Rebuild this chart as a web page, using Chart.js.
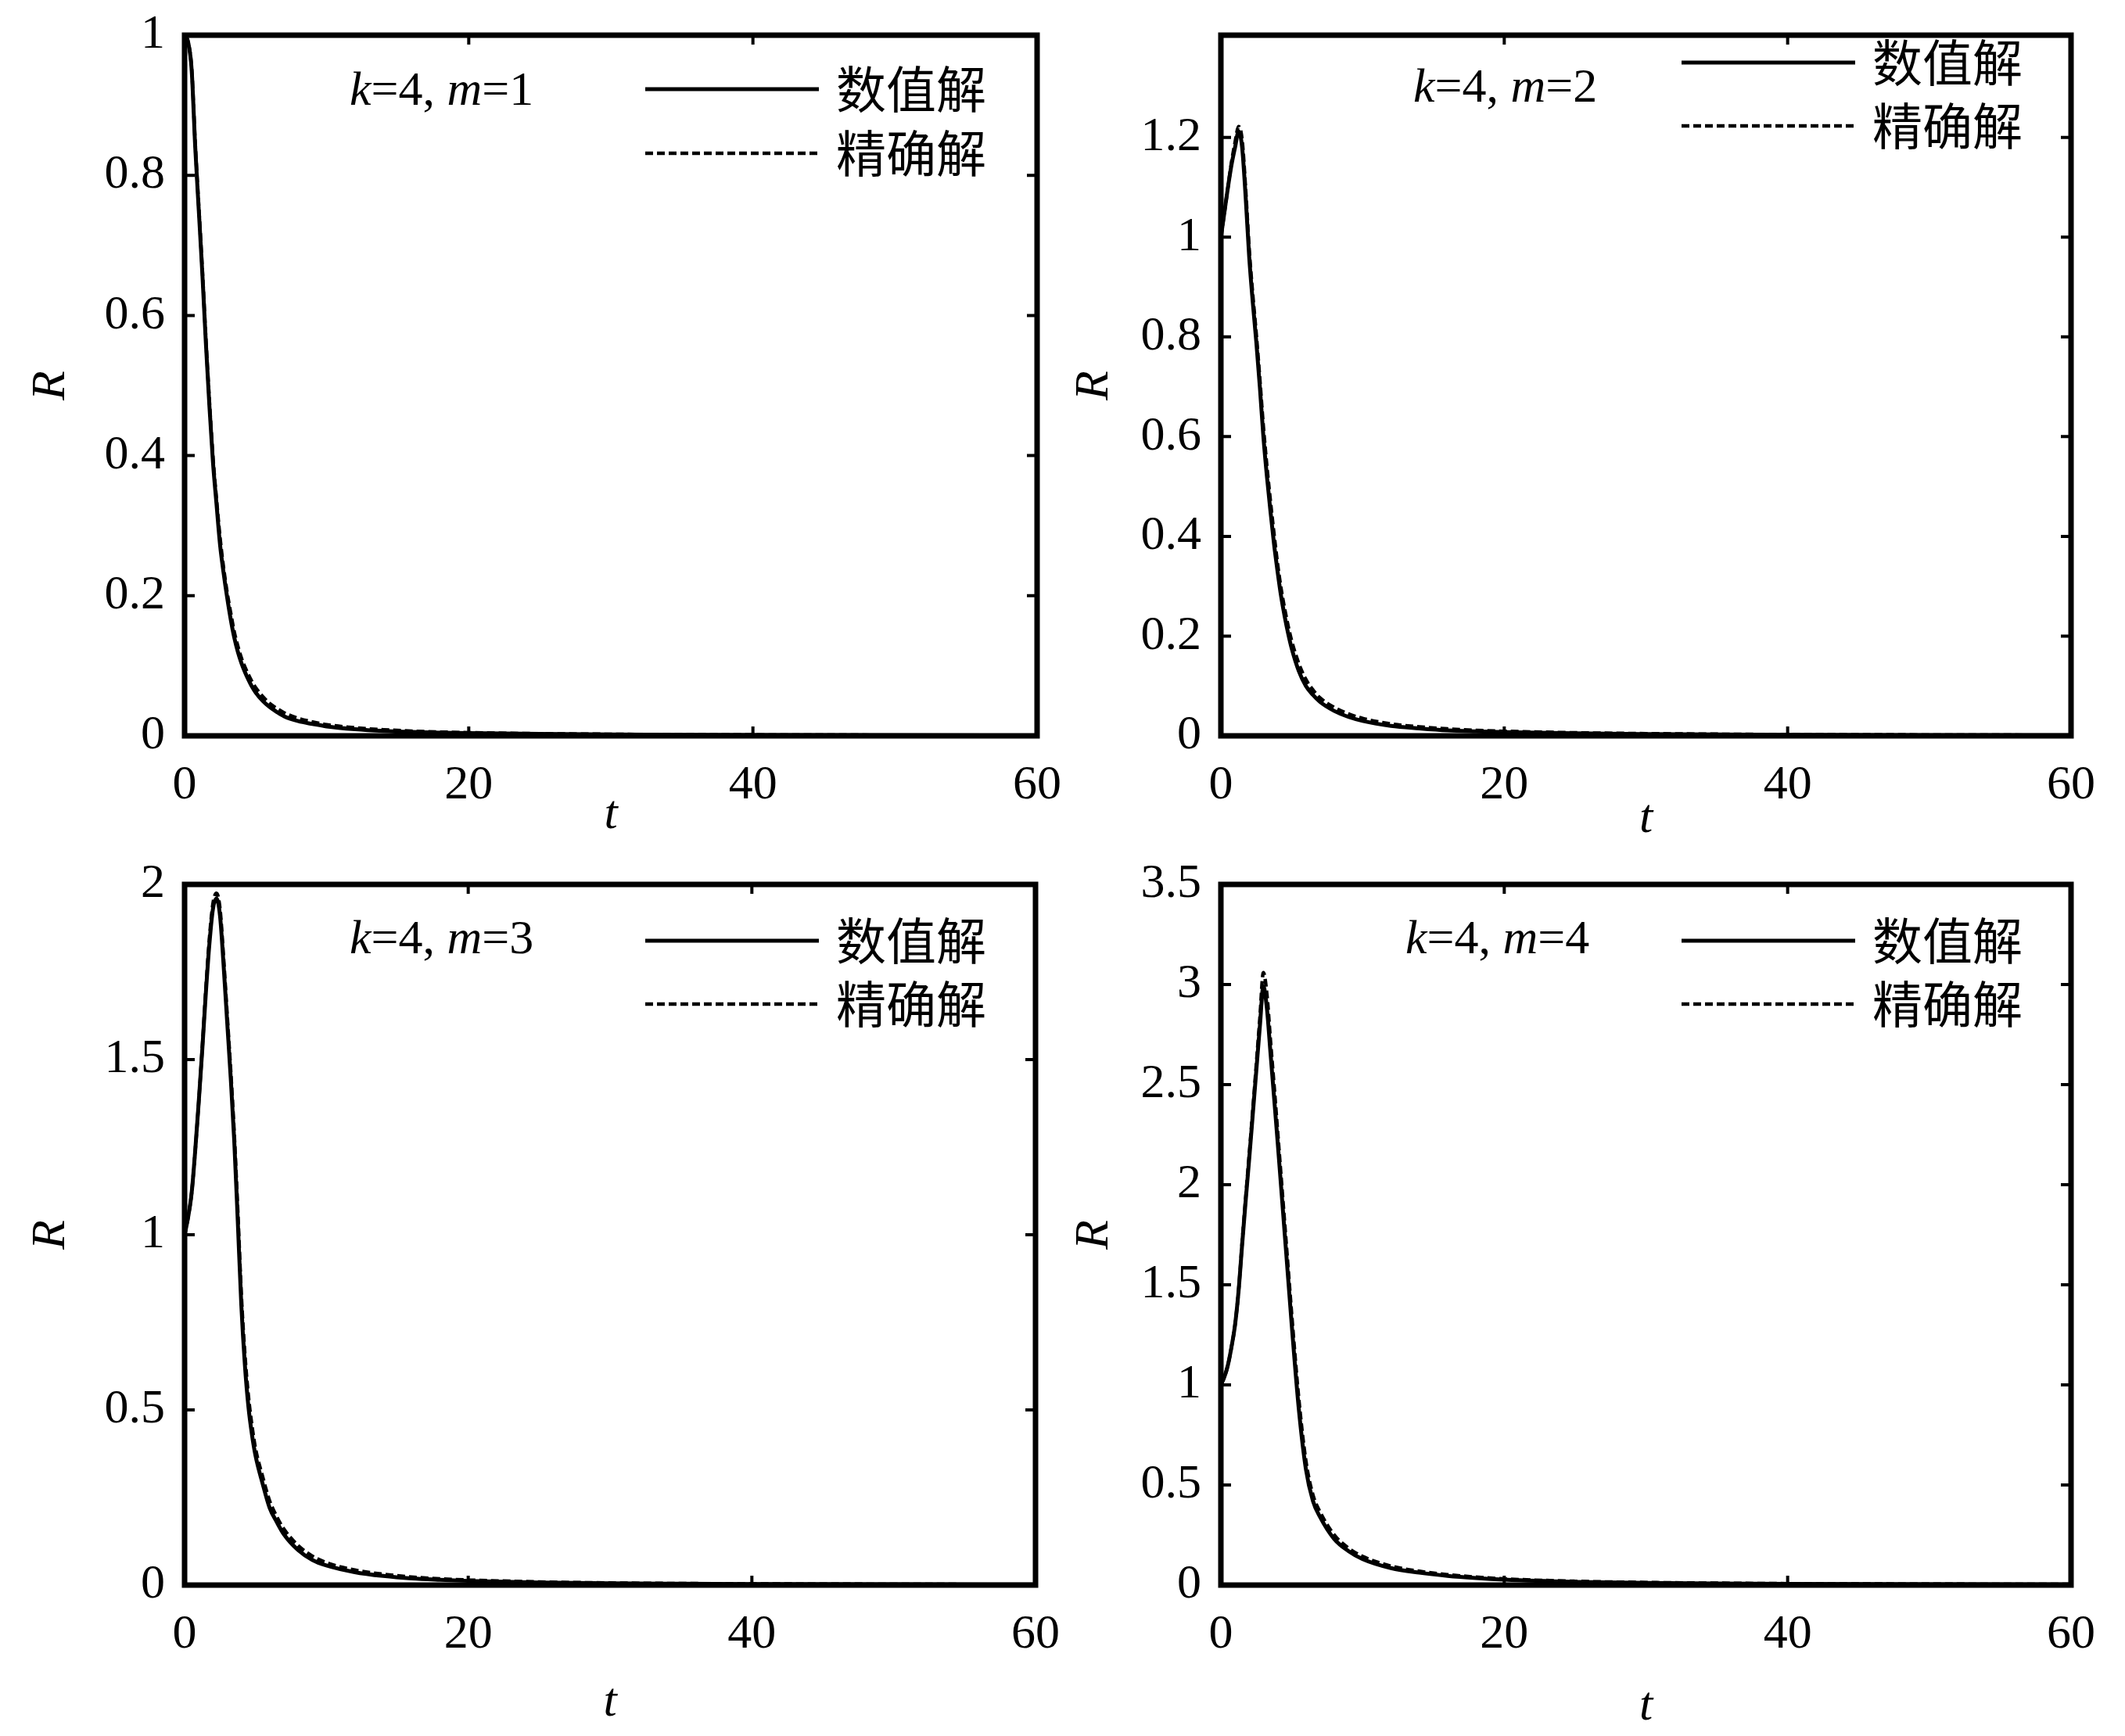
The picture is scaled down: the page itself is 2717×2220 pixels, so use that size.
<!DOCTYPE html>
<html>
<head>
<meta charset="utf-8">
<script src="https://cdn.jsdelivr.net/npm/chart.js@4.4.1/dist/chart.umd.min.js"></script>
<style>
  html, body { margin: 0; padding: 0; background: #fff; }
  body { width: 2717px; height: 2220px; position: relative; overflow: hidden; }
  canvas { position: absolute; }
</style>
</head>
<body>
<canvas id="panel0"></canvas>
<canvas id="panel1"></canvas>
<canvas id="panel2"></canvas>
<canvas id="panel3"></canvas>
<script>
// time axis (shared by every curve)
const tValues = [0,0.25,0.5,0.75,1,1.25,1.5,1.75,2,2.25,2.5,2.75,3,3.25,3.5,3.75,4,4.25,4.5,4.75,5,5.5,6,6.5,7,8,9,10,12,14,16,18,20,25,30,35,40,50,60];

const seriesNames = ['数值解', '精确解'];
const kValue = 4;
const mValues = [1, 2, 3, 4];

// k=4, m=1
const R1num   = [1.000,0.990,0.950,0.840,0.750,0.660,0.560,0.470,0.390,0.330,0.272,0.232,0.197,0.166,0.140,0.120,0.104,0.091,0.080,0.070,0.062,0.050,0.041,0.034,0.028,0.021,0.017,0.0135,0.0095,0.007,0.0055,0.0045,0.0038,0.0027,0.002,0.0015,0.0012,0.0008,0.0006];
const R1exact = [1.000,0.990,0.952,0.845,0.755,0.665,0.566,0.477,0.397,0.337,0.282,0.239,0.204,0.175,0.148,0.128,0.111,0.098,0.087,0.077,0.069,0.056,0.046,0.039,0.033,0.025,0.020,0.016,0.0115,0.0087,0.0068,0.0055,0.0046,0.0031,0.0023,0.0017,0.0013,0.0009,0.0006];
// k=4, m=2
const R2num   = [1.000,1.050,1.100,1.145,1.180,1.212,1.180,1.080,0.960,0.870,0.790,0.700,0.600,0.520,0.450,0.385,0.330,0.280,0.240,0.205,0.175,0.130,0.100,0.082,0.068,0.050,0.038,0.030,0.020,0.015,0.011,0.009,0.0075,0.005,0.0036,0.0027,0.002,0.0013,0.001];
const R2exact = [1.000,1.050,1.100,1.150,1.190,1.222,1.195,1.095,0.975,0.885,0.805,0.715,0.620,0.540,0.470,0.405,0.345,0.295,0.255,0.220,0.190,0.145,0.113,0.092,0.076,0.057,0.044,0.035,0.024,0.018,0.014,0.011,0.0092,0.0062,0.0045,0.0034,0.0026,0.0017,0.0012];
// k=4, m=3
const R3num   = [1.00,1.05,1.12,1.24,1.38,1.53,1.69,1.83,1.93,1.96,1.91,1.77,1.61,1.45,1.27,1.04,0.80,0.63,0.51,0.43,0.37,0.29,0.22,0.18,0.145,0.100,0.072,0.056,0.037,0.026,0.019,0.015,0.012,0.0075,0.005,0.0038,0.003,0.002,0.0014];
const R3exact = [1.00,1.05,1.12,1.24,1.38,1.535,1.70,1.845,1.945,1.975,1.93,1.79,1.63,1.47,1.29,1.07,0.83,0.66,0.54,0.455,0.39,0.31,0.24,0.195,0.16,0.113,0.083,0.064,0.043,0.031,0.023,0.018,0.0145,0.009,0.006,0.0045,0.0035,0.0023,0.0016];
// k=4, m=4
const R4num   = [1.00,1.04,1.10,1.19,1.30,1.47,1.70,1.92,2.13,2.35,2.57,2.79,2.99,2.88,2.66,2.44,2.22,1.99,1.76,1.53,1.30,0.88,0.58,0.42,0.34,0.23,0.17,0.13,0.085,0.062,0.046,0.035,0.027,0.016,0.011,0.008,0.006,0.004,0.003];
const R4exact = [1.00,1.04,1.10,1.19,1.30,1.47,1.71,1.935,2.15,2.37,2.60,2.83,3.06,2.95,2.72,2.50,2.27,2.04,1.81,1.58,1.35,0.93,0.62,0.45,0.365,0.25,0.185,0.143,0.095,0.069,0.052,0.040,0.031,0.019,0.013,0.0095,0.0072,0.0048,0.0035];

// tick labels
const xTicks = [0, 20, 40, 60];
const yTicks1 = [0, 0.2, 0.4, 0.6, 0.8, 1];
const yTicks2 = [0, 0.2, 0.4, 0.6, 0.8, 1, 1.2];
const yTicks3 = [0, 0.5, 1, 1.5, 2];
const yTicks4 = [0, 0.5, 1, 1.5, 2, 2.5, 3, 3.5];
const yMax = [1, 1.405, 2, 3.5];

const panelSeries = [[R1num, R1exact], [R2num, R2exact], [R3num, R3exact], [R4num, R4exact]];
const panelYTicks = [yTicks1, yTicks2, yTicks3, yTicks4];

// layout of each panel on the page (pixels); plot area starts padTop below the canvas top
const panelLayout = [
  { left: 0,    top: -19,  plotW: 1090, height: 1105, rX: 66, tY: 1062, legendRows: [69, 151], noteX: 211, noteY: 73 },
  { left: 1325, top: -19,  plotW: 1087, height: 1105, rX: 75, tY: 1067, legendRows: [35, 116], noteX: 246, noteY: 69 },
  { left: 0,    top: 1067, plotW: 1088, height: 1153, rX: 66, tY: 1111, legendRows: [72, 153], noteX: 211, noteY: 72 },
  { left: 1325, top: 1067, plotW: 1087, height: 1153, rX: 75, tY: 1116, legendRows: [72, 153], noteX: 236, noteY: 72 }
];
const yAxisW = 236, padTop = 64, padRight = 62, plotH = 896;
const serif = '"Liberation Serif", "Times New Roman", serif';
const cjk = '"Noto Sans CJK SC", sans-serif';
const fontSize = 62;

//dibuja el marco, las marcas de los ejes, la leyenda y la anotacion
const framePlugin = {
  id: 'marco',
  afterDraw(chart, args, opts) {
    const ctx = chart.ctx;
    const a = chart.chartArea;
    const sx = chart.scales.x, sy = chart.scales.y;
    ctx.save();
    ctx.strokeStyle = '#000';
    ctx.lineWidth = 4;
    sx.ticks.forEach(tk => {
      const px = sx.getPixelForValue(tk.value);
      ctx.beginPath();
      ctx.moveTo(px, a.bottom); ctx.lineTo(px, a.bottom - 12);
      ctx.moveTo(px, a.top); ctx.lineTo(px, a.top + 12);
      ctx.stroke();
    });
    sy.ticks.forEach(tk => {
      const py = sy.getPixelForValue(tk.value);
      ctx.beginPath();
      ctx.moveTo(a.left, py); ctx.lineTo(a.left + 13, py);
      ctx.moveTo(a.right, py); ctx.lineTo(a.right - 13, py);
      ctx.stroke();
    });
    ctx.lineWidth = 7;
    ctx.strokeRect(a.left, a.top, a.right - a.left, a.bottom - a.top);

    // leyenda
    const lay = opts.layout;
    chart.data.datasets.forEach((ds, j) => {
      const y = a.top + lay.legendRows[j];
      ctx.lineWidth = ds.borderWidth;
      ctx.setLineDash(ds.borderDash || []);
      ctx.beginPath();
      ctx.moveTo(a.left + 589, y);
      ctx.lineTo(a.left + 811, y);
      ctx.stroke();
      ctx.setLineDash([]);
      ctx.fillStyle = '#000';
      ctx.font = '64px ' + cjk;
      ctx.textBaseline = 'middle';
      ctx.textAlign = 'left';
      ctx.fillText(ds.label, a.left + 833, y);
    });

    // k=4, m=...
    const parts = [['k', true], ['=' + kValue + ', ', false], ['m', true], ['=' + opts.m, false]];
    let x = a.left + lay.noteX;
    const y = a.top + lay.noteY;
    parts.forEach(p => {
      ctx.font = (p[1] ? 'italic ' : '') + fontSize + 'px ' + serif;
      ctx.fillText(p[0], x, y);
      x += ctx.measureText(p[0]).width;
    });
    ctx.restore();
  }
};

function crearPanel(i) {
  const lay = panelLayout[i];
  const canvas = document.getElementById('panel' + i);
  const w = yAxisW + lay.plotW + padRight;
  canvas.width = w;
  canvas.height = lay.height;
  canvas.style.left = lay.left + 'px';
  canvas.style.top = lay.top + 'px';
  canvas.style.width = w + 'px';
  canvas.style.height = lay.height + 'px';

  const xAxisH = lay.height - padTop - plotH;
  const lineH = fontSize * 1.2;
  const series = panelSeries[i];

  const datasets = [
    { label: seriesNames[0], data: tValues.map((t, j) => ({ x: t, y: series[0][j] })),
      borderColor: '#000', borderWidth: 5, borderDash: [], pointRadius: 0, cubicInterpolationMode: 'monotone' },
    { label: seriesNames[1], data: tValues.map((t, j) => ({ x: t, y: series[1][j] })),
      borderColor: '#000', borderWidth: 4.5, borderDash: [10, 5], pointRadius: 0, cubicInterpolationMode: 'monotone' }
  ];

  new Chart(canvas, {
    type: 'line',
    data: { datasets: datasets },
    options: {
      responsive: false,
      animation: false,
      devicePixelRatio: 1,
      layout: { padding: { left: 0, top: padTop, right: padRight, bottom: 0 } },
      plugins: {
        legend: { display: false },
        tooltip: { enabled: false },
        marco: { layout: lay, m: mValues[i] }
      },
      scales: {
        x: {
          type: 'linear', min: 0, max: 60,
          afterBuildTicks: s => { s.ticks = xTicks.map(v => ({ value: v })); },
          afterFit: s => { s.height = xAxisH; },
          grid: { display: false, drawTicks: false },
          border: { display: false },
          ticks: { color: '#000', padding: 27, maxRotation: 0, font: { family: serif, size: fontSize } },
          title: { display: true, text: 't', color: '#000',
                   padding: { top: 0, bottom: lay.height - lay.tY - lineH / 2 },
                   font: { family: serif, size: fontSize, style: 'italic', lineHeight: 1.2 } }
        },
        y: {
          type: 'linear', min: 0, max: yMax[i],
          afterBuildTicks: s => { s.ticks = panelYTicks[i].map(v => ({ value: v })); },
          afterFit: s => { s.width = yAxisW; },
          grid: { display: false, drawTicks: false },
          border: { display: false },
          ticks: { color: '#000', padding: 25, font: { family: serif, size: fontSize },
                   callback: v => String(Number(v.toFixed(3))) },
          title: { display: true, text: 'R', color: '#000',
                   padding: { top: lay.rX - lineH / 2, bottom: 0 },
                   font: { family: serif, size: fontSize, style: 'italic', lineHeight: 1.2 } }
        }
      }
    },
    plugins: [framePlugin]
  });
}

for (let i = 0; i < 4; i++) {
  crearPanel(i);
}
</script>
</body>
</html>
